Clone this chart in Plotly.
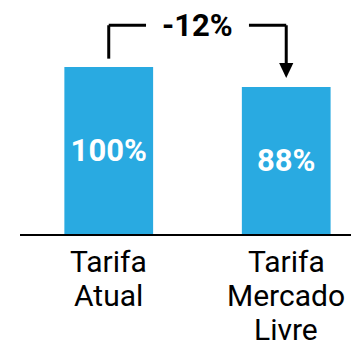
import plotly.graph_objects as go

categories = ["Tarifa Atual", "Tarifa Mercado Livre"]
label_lines = [["Tarifa", "Atual"], ["Tarifa", "Mercado", "Livre"]]
values = [100, 88]
value_text = ["100%", "88%"]
diff_text = "-12%"

BAR = "#29AAE1"
FONT = "Roboto"

# page has an 8px body margin; figure drawn in its own coords
OFF = 8
H = 234.0 - OFF          # plot-area height in px
ymax = H / 1.67

fig = go.Figure()
fig.add_trace(go.Bar(
    x=[0, 1], y=values, width=0.5,
    marker=dict(color=BAR, line=dict(width=0)),
    text=value_text, textposition="inside", insidetextanchor="middle",
    textfont=dict(family=FONT, size=31, color="white", weight="bold"),
    hoverinfo="skip",
))

# category labels, one annotation per line
for i, lines in enumerate(label_lines):
    for j, ln in enumerate(lines):
        py = 261 + 34 * j - OFF
        fig.add_annotation(
            x=i, xref="x", y=(H - py) / H, yref="paper",
            text=ln, showarrow=False, xanchor="center", yanchor="middle",
            font=dict(family=FONT, size=30, color="black"),
        )

# bracket
top_y = values[0] + 25
left_bottom = values[0] + 5
tip = values[1] + 5.4
head_h = 9.0
head_w = 0.04
lw = 3
fig.add_shape(type="line", x0=0, x1=0, y0=left_bottom, y1=top_y,
              xref="x", yref="y", line=dict(color="black", width=lw))
fig.add_shape(type="line", x0=0, x1=0.21, y0=top_y, y1=top_y,
              xref="x", yref="y", line=dict(color="black", width=lw))
fig.add_shape(type="line", x0=0.79, x1=1, y0=top_y, y1=top_y,
              xref="x", yref="y", line=dict(color="black", width=lw))
fig.add_shape(type="line", x0=1, x1=1, y0=top_y, y1=tip + head_h - 1,
              xref="x", yref="y", line=dict(color="black", width=lw))
fig.add_shape(type="path",
              path=f"M {1 - head_w},{tip + head_h} L {1 + head_w},{tip + head_h} L 1,{tip} Z",
              xref="x", yref="y", fillcolor="black", line=dict(width=0))
fig.add_annotation(x=0.5, xref="x", y=top_y, yref="y", text=diff_text,
                   showarrow=False, xanchor="center", yanchor="middle",
                   font=dict(family=FONT, size=31, color="black", weight="bold"))

fig.update_layout(
    width=359 - OFF, height=344 - OFF,
    margin=dict(l=20 - OFF, r=0, t=0, b=110),
    plot_bgcolor="white", paper_bgcolor="white",
    showlegend=False,
    xaxis=dict(range=[-0.5, 1.41], showticklabels=False, showgrid=False,
               zeroline=False, showline=True, linecolor="black", linewidth=1.5,
               ticks=""),
    yaxis=dict(range=[0, ymax], visible=False, showgrid=False, zeroline=False),
)

fig.write_html("out.html")
